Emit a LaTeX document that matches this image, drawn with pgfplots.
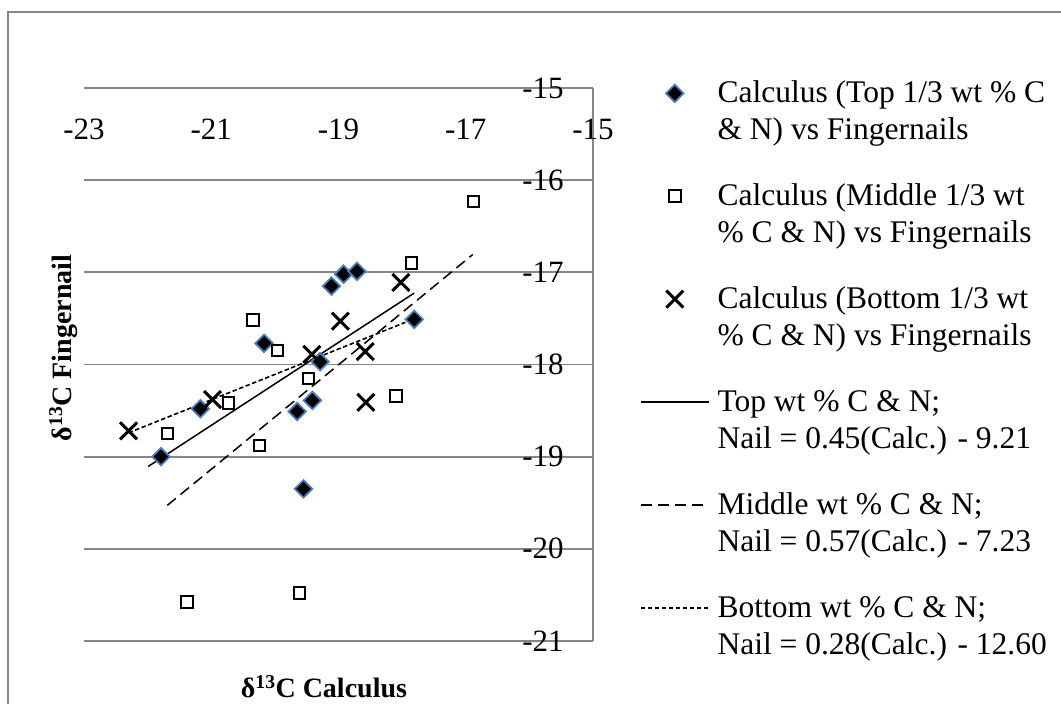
\documentclass[border=0pt]{standalone}
\usepackage{fontspec}
\setmainfont{Liberation Serif}
\usepackage{pgfplots}
\pgfplotsset{compat=1.18}

\definecolor{gridgray}{HTML}{868686}
\definecolor{markblue}{HTML}{4A7EBB}

\begin{document}
\begin{tikzpicture}[x=1pt,y=1pt]
\clip (0,0) rectangle (1061,704);
% chart area frame
\draw[gridgray, line width=1.7pt] (7.7,-20) -- (7.7,692.3) -- (1090,692.3);
\begin{axis}[
  scale only axis, width=509pt, height=553pt,
  at={(84pt,63pt)}, anchor=south west,
  xmin=-23, xmax=-15, ymin=-21, ymax=-15,
  xtick={-23,-21,-19,-17,-15},
  ytick={-21,-20,-19,-18,-17,-16,-15},
  axis x line*=top, axis y line*=right,
  axis line style={-, gridgray, line width=1.8pt},
  ymajorgrids, major grid style={gridgray, line width=1.8pt},
  major tick length=0pt,
  /pgf/number format/assume math mode=true,
  tick label style={font=\fontsize{31}{37}\selectfont},
  xticklabel style={anchor=center, yshift=-41pt},
  yticklabel style={anchor=center, xshift=-50pt},
  every axis x label/.style={at={(axis description cs:0.4715,-0.083)}, anchor=center},
  every axis y label/.style={at={(axis description cs:-0.041,0.53)}, anchor=center, rotate=90},
  label style={font=\fontsize{28}{33}\selectfont\bfseries},
  xlabel={δ\textsuperscript{13}C Calculus},
  ylabel={δ\textsuperscript{13}C Fingernail},
  clip=false,
  legend style={at={(axis description cs:1.0923,1.02)}, anchor=north west,
    draw=none, fill=none, inner sep=0pt, outer sep=0pt,
    row sep=75.5pt, column sep=8pt,
    font=\fontsize{31.5}{37}\selectfont,
    nodes={inner sep=0pt, anchor=base west}},
  legend cell align=left,
  legend image code/.code={\draw[mark repeat=2, mark phase=2, yshift=9.5pt, #1]
    plot coordinates {(0pt,0pt) (34pt,0pt) (68pt,0pt)};},
]
% Top 1/3 wt % C & N
\addplot[only marks, mark=square*, mark size=6.2pt,
  mark options={rotate=45, fill=black, draw=markblue, line width=1.8pt}]
  coordinates {(-19.11,-17.15) (-18.92,-17.02) (-18.71,-16.99) (-17.81,-17.51)
    (-20.17,-17.77) (-19.29,-17.97) (-19.41,-18.39) (-19.65,-18.51)
    (-21.17,-18.48) (-21.79,-19.00) (-19.55,-19.35)};
\addlegendentry{\begin{tabular}[t]{@{}l@{}}Calculus (Top 1/3 wt \% C\\ \& N) vs Fingernails\end{tabular}}
% Middle 1/3 wt % C & N
\addplot[only marks, mark=square, mark size=5.8pt,
  mark options={draw=black, line width=2pt}]
  coordinates {(-16.88,-16.23) (-17.85,-16.90) (-20.34,-17.52) (-19.96,-17.85)
    (-19.47,-18.15) (-18.10,-18.34) (-20.73,-18.42) (-21.69,-18.75)
    (-20.24,-18.88) (-21.38,-20.58) (-19.61,-20.48)};
\addlegendentry{\begin{tabular}[t]{@{}l@{}}Calculus (Middle 1/3 wt\\ \% C \& N) vs Fingernails\end{tabular}}
% Bottom 1/3 wt % C & N
\addplot[only marks, mark=x, mark size=12pt,
  mark options={draw=black, line width=3pt}]
  coordinates {(-22.30,-18.72) (-20.98,-18.38) (-19.42,-17.89) (-18.97,-17.53)
    (-18.58,-17.86) (-18.57,-18.41) (-18.02,-17.11)};
\addlegendentry{\begin{tabular}[t]{@{}l@{}}Calculus (Bottom 1/3 wt\\ \% C \& N) vs Fingernails\end{tabular}}
% linear fits
\addplot[black, line width=1.5pt, no marks]
  coordinates {(-21.99,-19.106) (-17.81,-17.225)};
\addlegendentry{\begin{tabular}[t]{@{}l@{}}Top wt \% C \& N;\\ Nail = 0.45(Calc.) - 9.21\end{tabular}}
\addplot[black, line width=1.5pt, no marks, dash pattern=on 11pt off 6pt]
  coordinates {(-21.69,-19.528) (-16.89,-16.807)};
\addlegendentry{\begin{tabular}[t]{@{}l@{}}Middle wt \% C \& N;\\ Nail = 0.57(Calc.) - 7.23\end{tabular}}
\addplot[black, line width=1.6pt, no marks, dash pattern=on 4.5pt off 2.5pt]
  coordinates {(-22.30,-18.741) (-17.95,-17.543)};
\addlegendentry{\begin{tabular}[t]{@{}l@{}}Bottom wt \% C \& N;\\ Nail = 0.28(Calc.) - 12.60\end{tabular}}
\end{axis}
\end{tikzpicture}
\end{document}
